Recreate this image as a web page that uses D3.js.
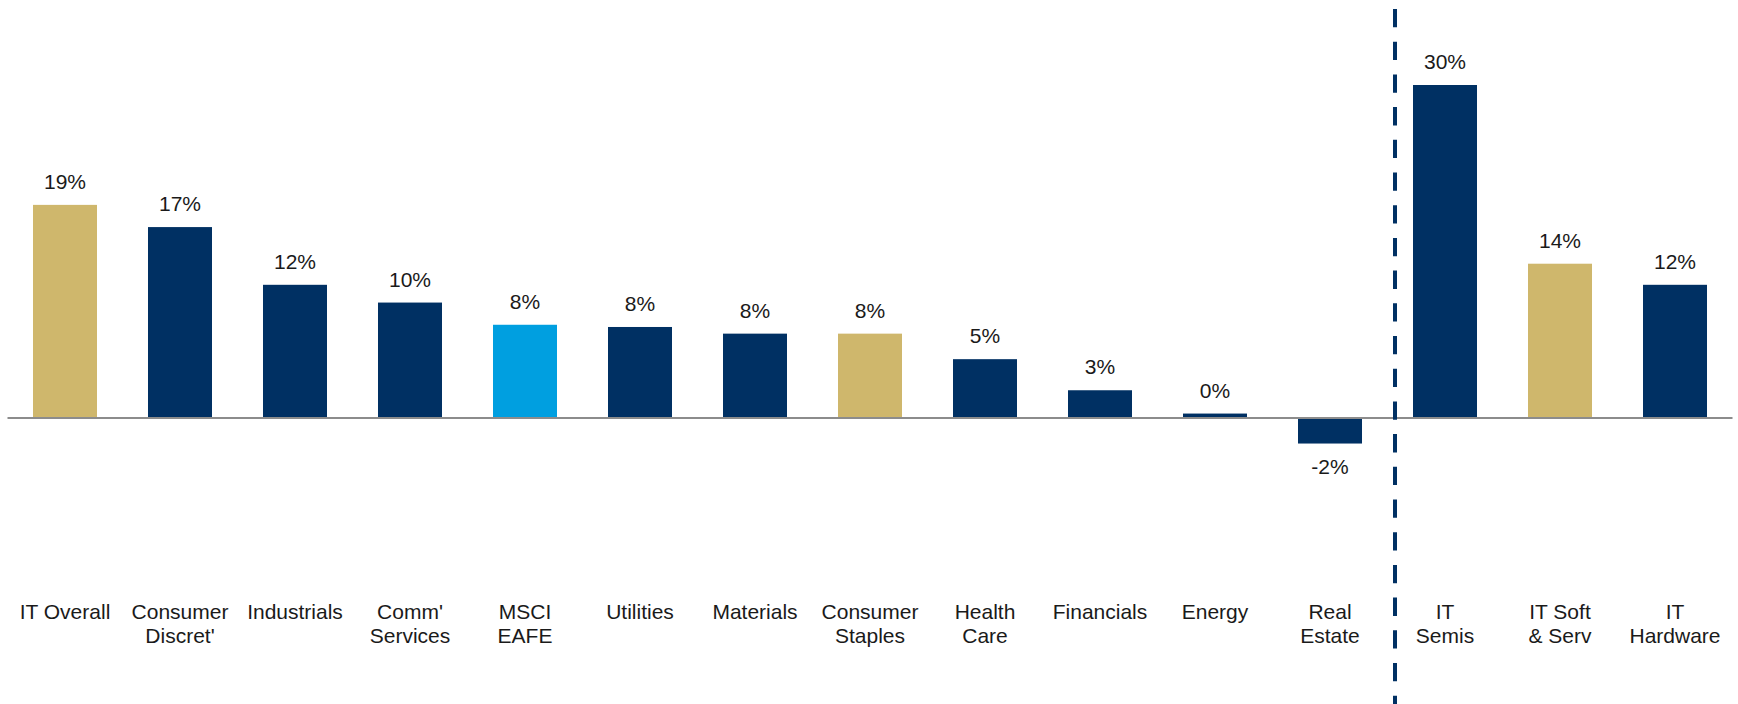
<!DOCTYPE html>
<html>
<head>
<meta charset="utf-8">
<script src="https://cdn.jsdelivr.net/npm/d3@7"></script>
<style>
  html, body { margin: 0; padding: 0; background: #ffffff; }
  svg { display: block; }
  text { font-family: "Liberation Sans", Arial, sans-serif; fill: #1a1a1a; }
</style>
</head>
<body>
<svg id="chart" width="1738" height="704"></svg>
<script>
// Sector categories (line breaks mark wrapped axis labels)
const categories = [
  "IT Overall", "Consumer\nDiscret'", "Industrials", "Comm'\nServices", "MSCI\nEAFE",
  "Utilities", "Materials", "Consumer\nStaples", "Health\nCare", "Financials",
  "Energy", "Real\nEstate", "IT\nSemis", "IT Soft\n& Serv", "IT\nHardware"
];

// Growth values, in percent
const values = [19.2, 17.2, 12.0, 10.4, 8.4, 8.2, 7.6, 7.6, 5.3, 2.5, 0.4, -2.3, 30.0, 13.9, 12.0];

// Category roles used for colouring
const benchmarkCategory = "MSCI\nEAFE";
const highlightCategories = ["IT Overall", "Consumer\nStaples", "IT Soft\n& Serv"];

// IT sub-industries start at this category, separated by a divider
const firstSubIndustry = "IT\nSemis";

const data = categories.map((c, i) => ({ category: c, value: values[i] }));

const width = 1738, height = 704;
const svg = d3.select("#chart");

const x = d3.scaleBand()
  .domain(categories)
  .range([7.5, 1732.5])
  .paddingInner(0.4435)
  .paddingOuter(0.2217);

const y = d3.scaleLinear()
  .domain([-20, 35])
  .range([418 + 20 * 11.1, 418 - 35 * 11.1]);

const NAVY = "#003063", GOLD = "#CFB76C", SKY = "#009FE0";
const colorOf = c => c === benchmarkCategory ? SKY : (highlightCategories.includes(c) ? GOLD : NAVY);

// Bars
svg.append("g")
  .selectAll("rect")
  .data(data)
  .join("rect")
  .attr("x", d => x(d.category))
  .attr("width", x.bandwidth())
  .attr("y", d => y(Math.max(0, d.value)))
  .attr("height", d => Math.abs(y(d.value) - y(0)))
  .attr("fill", d => colorOf(d.category));

// Zero line
const xAxis = d3.axisBottom(x).tickSize(0).tickFormat("");
const axisG = svg.append("g")
  .attr("transform", `translate(0,${y(0)})`)
  .call(xAxis);
axisG.select(".domain")
  .attr("stroke", "#8c8c8c")
  .attr("stroke-width", 2)
  .attr("d", `M${x.range()[0]},0H${x.range()[1]}`);

// Value labels
const fmt = v => Math.round(v) + "%";
svg.append("g")
  .selectAll("text")
  .data(data)
  .join("text")
  .attr("x", d => x(d.category) + x.bandwidth() / 2)
  .attr("y", d => d.value >= 0 ? y(d.value) - 16 : y(d.value) + 30)
  .attr("text-anchor", "middle")
  .attr("font-size", 21)
  .text(d => fmt(d.value));

// Category labels
const catG = svg.append("g");
categories.forEach(c => {
  const t = catG.append("text")
    .attr("x", x(c) + x.bandwidth() / 2)
    .attr("y", 619)
    .attr("text-anchor", "middle")
    .attr("font-size", 21);
  c.split("\n").forEach((line, i) => {
    t.append("tspan")
      .attr("x", x(c) + x.bandwidth() / 2)
      .attr("dy", i === 0 ? 0 : 24)
      .text(line);
  });
});

// Divider between sectors and IT sub-industries
const dividerX = x(firstSubIndustry) - 18;
svg.append("line")
  .attr("x1", dividerX).attr("x2", dividerX)
  .attr("y1", 9).attr("y2", height)
  .attr("stroke", NAVY)
  .attr("stroke-width", 4)
  .attr("stroke-dasharray", "18.3,14.4");
</script>
</body>
</html>
